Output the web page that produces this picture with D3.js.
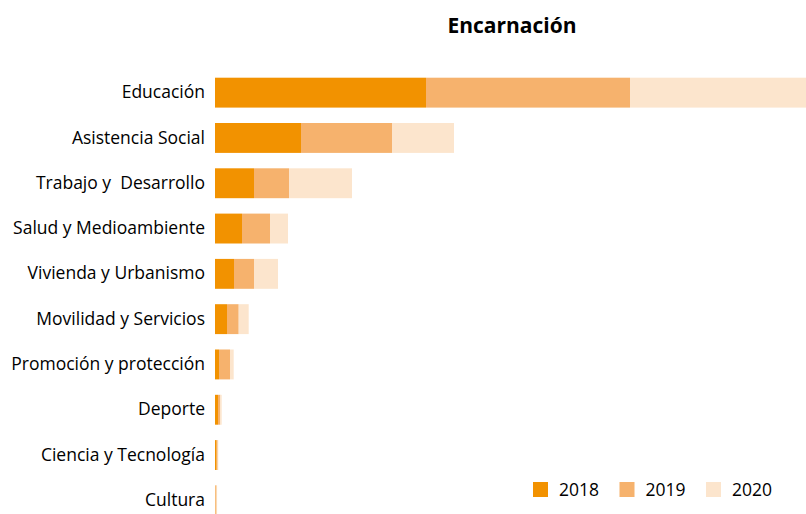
<!DOCTYPE html>
<html>
<head>
<meta charset="utf-8">
<script src="https://cdn.jsdelivr.net/npm/d3@7"></script>
<style>
  body { margin: 0; background: #fff; }
</style>
</head>
<body>
<div id="chart"></div>
<script>
// Data (relative amounts)
var categories = ['Educación', 'Asistencia Social', 'Trabajo y  Desarrollo', 'Salud y Medioambiente',
  'Vivienda y Urbanismo', 'Movilidad y Servicios', 'Promoción y protección', 'Deporte',
  'Ciencia y Tecnología', 'Cultura'];
var years = ['2018', '2019', '2020'];
var values2018 = [211, 86, 39, 27, 19, 12, 4, 3, 1.7, 0.4];
var values2019 = [204, 91, 35, 28, 20, 11.7, 11, 2.3, 1, 1.2];
var values2020 = [176, 62, 63, 18, 24, 10, 3.7, 1.4, 0.6, 0.5];
var colors = ['#F29200', '#F6B26D', '#FCE5CD'];

var attrs = {
  svgWidth: 806,
  svgHeight: 514,
  left: 215,
  right: 806,
  top: 70,
  bottom: 523,
  font: 'Open Sans'
};

var rows = categories.map(function (c, i) {
  return { cat: c, '2018': values2018[i], '2019': values2019[i], '2020': values2020[i] };
});

var stack = d3.stack().keys(years)(rows);

var svg = d3.select('#chart').append('svg')
  .attr('width', attrs.svgWidth)
  .attr('height', attrs.svgHeight)
  .attr('font-family', attrs.font);

// scales
var x = d3.scaleLinear()
  .domain([0, d3.max(rows, function (d) { return d['2018'] + d['2019'] + d['2020']; })])
  .range([attrs.left, attrs.right]);

var y = d3.scaleBand()
  .domain(categories)
  .range([attrs.top, attrs.bottom])
  .paddingInner(0.34)
  .paddingOuter(0.17);

// title
svg.append('text')
  .attr('x', 512)
  .attr('y', 33)
  .attr('text-anchor', 'middle')
  .attr('font-size', 21)
  .attr('font-weight', 'bold')
  .attr('fill', '#000')
  .text('Encarnación');

// bars
svg.append('g').selectAll('g')
  .data(stack)
  .join('g')
  .attr('fill', function (d, i) { return colors[i]; })
  .selectAll('rect')
  .data(function (d) { return d; })
  .join('rect')
  .attr('x', function (d) { return x(d[0]); })
  .attr('y', function (d) { return y(d.data.cat); })
  .attr('width', function (d) { return Math.max(0, x(d[1]) - x(d[0])); })
  .attr('height', y.bandwidth());

// category axis, no line or ticks
var yAxis = svg.append('g')
  .attr('transform', 'translate(' + (attrs.left - 10) + ',0)')
  .call(d3.axisLeft(y).tickSize(0).tickPadding(0));
yAxis.select('.domain').remove();
yAxis.selectAll('text')
  .attr('font-family', attrs.font)
  .attr('font-size', 17.5)
  .attr('fill', '#000')
  .style('white-space', 'pre');

// legend
var legend = svg.append('g').selectAll('g')
  .data(years)
  .join('g')
  .attr('transform', function (d, i) { return 'translate(' + (533 + i * 86.5) + ',482)'; });

legend.append('rect')
  .attr('width', 15)
  .attr('height', 15)
  .attr('fill', function (d, i) { return colors[i]; });

legend.append('text')
  .attr('x', 26)
  .attr('y', 14)
  .attr('font-size', 17.5)
  .attr('fill', '#000')
  .text(function (d) { return d; });
</script>
</body>
</html>
